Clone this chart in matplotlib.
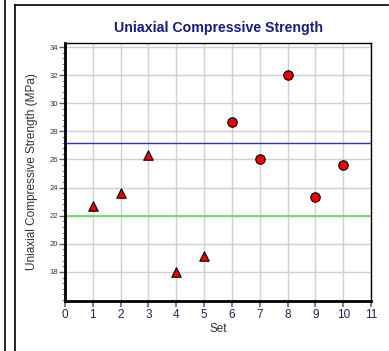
import matplotlib.pyplot as plt
from matplotlib.lines import Line2D
from matplotlib.ticker import MultipleLocator

plt.rcParams['font.family'] = ['Liberation Sans', 'DejaVu Sans']

# data
tri_sets = [1, 2, 3, 4, 5]
tri_ucs = [22.7, 23.6, 26.3, 18.0, 19.1]
circ_sets = [6, 7, 8, 9, 10]
circ_ucs = [28.7, 26.0, 32.0, 23.3, 25.6]
mean_line = 27.15
lower_line = 22.0
x_ticks = list(range(0, 12))
y_ticks = [18, 20, 22, 24, 26, 28, 30, 32, 34]

fig = plt.figure(figsize=(3.89, 3.51), dpi=100)
W, H = 389, 351

# outer panel frame lines
for x in (5, 15):
    y0 = 0 if x == 5 else 5
    fig.add_artist(Line2D([x / W, x / W], [0, 1 - y0 / H], color='black', lw=1.2,
                          transform=fig.transFigure))
fig.add_artist(Line2D([15 / W, 388 / W], [1 - 5 / H, 1 - 5 / H], color='black', lw=1.2,
                      transform=fig.transFigure))

ax = fig.add_axes([65 / W, 1 - 301 / H, (371 - 65) / W, (301 - 43) / H])

ax.axhline(mean_line, color='#3030d0', lw=1, zorder=2)
ax.axhline(lower_line, color='#55e055', lw=1.2, zorder=2)

ax.scatter(tri_sets, tri_ucs, marker='^', s=46, c='#ee0000', edgecolors='black',
           linewidths=0.8, zorder=3)
ax.scatter(circ_sets, circ_ucs, marker='o', s=46, c='#ee0000', edgecolors='black',
           linewidths=0.8, zorder=3)

ax.set_xlim(0, 11)
ax.set_ylim(15.93, 34.29)
ax.set_xticks(x_ticks)
ax.set_yticks(y_ticks)
ax.yaxis.set_minor_locator(MultipleLocator(0.4))
ax.grid(True, color='#d0d0d0', lw=1)
ax.set_axisbelow(True)

ax.tick_params(axis='x', direction='out', length=4, width=1.5, color='#808080',
               labelsize=8.5, labelcolor='#202060', pad=2)
ax.tick_params(axis='y', which='major', direction='out', length=4, width=1, color='#606060',
               labelsize=5.5, labelcolor='#303050', pad=1)
ax.tick_params(axis='y', which='minor', direction='out', length=2, width=0.8, color='#808080')

for side in ('left', 'bottom'):
    ax.spines[side].set_linewidth(2)
for side in ('top', 'right'):
    ax.spines[side].set_linewidth(1)

ax.set_xlabel('Set', fontsize=8.5, color='#303030', labelpad=1)
ax.set_ylabel('Uniaxial Compressive Strength (MPa)', fontsize=8.5, color='#303030', labelpad=8)
ax.set_title('Uniaxial Compressive Strength', fontsize=10.2, fontweight='bold',
             color='#1a1a80', pad=8)

fig.savefig('out.png', dpi=100)
